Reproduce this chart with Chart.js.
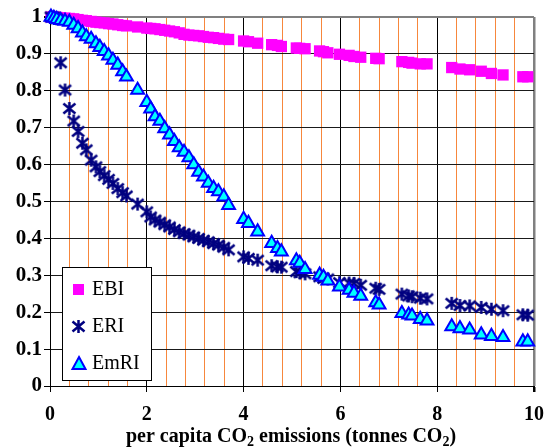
<!DOCTYPE html>
<html>
<head>
<meta charset="utf-8">
<script src="https://cdn.jsdelivr.net/npm/chart.js@4"></script>
<style>
  html, body { margin: 0; padding: 0; background: #fff; }
</style>
</head>
<body>
<canvas id="indexChart" width="555" height="448"></canvas>
<script>
// per capita CO2 emissions (tonnes CO2), one entry per country
const xValues = [0.02, 0.08, 0.14, 0.22, 0.31, 0.40, 0.49, 0.58, 0.67, 0.75, 0.85, 0.95, 1.03, 1.12, 1.21, 1.30, 1.40, 1.50, 1.58, 1.81,
  2.00, 2.08, 2.17, 2.27, 2.37, 2.47, 2.57, 2.67, 2.77, 2.87, 2.97, 3.07, 3.17, 3.27, 3.38, 3.48, 3.59, 3.69, 4.00, 4.10,
  4.29, 4.58, 4.70, 4.78, 5.09, 5.16, 5.27, 5.57, 5.65, 5.74, 5.98, 6.18, 6.28, 6.42, 6.73, 6.80, 7.27, 7.41, 7.48, 7.65,
  7.79, 8.30, 8.47, 8.67, 8.91, 9.12, 9.36, 9.77, 9.87];

const ebi = [1.0, 1.0, 0.999, 0.998, 0.997, 0.996, 0.995, 0.993, 0.991, 0.99, 0.988, 0.986, 0.985, 0.984, 0.982, 0.981, 0.979, 0.977, 0.976, 0.973,
  0.97, 0.969, 0.968, 0.966, 0.964, 0.962, 0.96, 0.957, 0.953, 0.951, 0.95, 0.949, 0.947, 0.945, 0.944, 0.942, 0.94, 0.939, 0.935, 0.933,
  0.929, 0.925, 0.923, 0.92, 0.916, 0.915, 0.914, 0.908, 0.906, 0.903, 0.899, 0.896, 0.893, 0.891, 0.888, 0.887, 0.879, 0.877, 0.875, 0.873,
  0.873, 0.863, 0.859, 0.857, 0.853, 0.847, 0.843, 0.838, 0.838];

const eri = [1.0, 1.0, 0.995, 0.876, 0.802, 0.752, 0.718, 0.69, 0.658, 0.64, 0.612, 0.594, 0.581, 0.57, 0.56, 0.549, 0.535, 0.524, 0.515, 0.493,
  0.472, 0.458, 0.45, 0.444, 0.437, 0.431, 0.424, 0.418, 0.413, 0.409, 0.404, 0.40, 0.395, 0.391, 0.386, 0.382, 0.376, 0.369, 0.35, 0.346,
  0.341, 0.326, 0.323, 0.322, 0.31, 0.307, 0.304, 0.296, 0.292, 0.29, 0.28, 0.279, 0.278, 0.273, 0.265, 0.262, 0.249, 0.244, 0.242, 0.238,
  0.236, 0.224, 0.218, 0.217, 0.213, 0.208, 0.204, 0.193, 0.192];

const emri = [1.0, 0.997, 0.994, 0.991, 0.989, 0.986, 0.978, 0.969, 0.957, 0.947, 0.94, 0.928, 0.918, 0.907, 0.895, 0.883, 0.87, 0.852, 0.838, 0.802,
  0.769, 0.751, 0.73, 0.718, 0.698, 0.681, 0.663, 0.646, 0.634, 0.619, 0.60, 0.58, 0.567, 0.55, 0.536, 0.527, 0.513, 0.49, 0.452, 0.441,
  0.418, 0.387, 0.373, 0.364, 0.34, 0.333, 0.316, 0.301, 0.295, 0.285, 0.269, 0.26, 0.252, 0.244, 0.226, 0.22, 0.197, 0.193, 0.19, 0.181,
  0.177, 0.161, 0.156, 0.152, 0.139, 0.135, 0.132, 0.12, 0.12];

const seriesNames = ['EBI', 'ERI', 'EmRI'];
const xTickLabels = ['0', '2', '4', '6', '8', '10'];
const yTickLabels = ['0', '0.1', '0.2', '0.3', '0.4', '0.5', '0.6', '0.7', '0.8', '0.9', '1'];

const SERIF = "'Liberation Serif', 'Times New Roman', serif";
const near = (a, b) => Math.abs(a - b) < 1e-6;
const isMajorX = v => near(v / 2, Math.round(v / 2));

// star marker: an X with a vertical bar, like the spreadsheet "*" marker
function makeStar(size, color) {
  const c = document.createElement('canvas');
  c.width = c.height = size;
  const g = c.getContext('2d');
  g.strokeStyle = color;
  g.lineWidth = 2.5;
  const a = 1.5, b = size - 1.5;
  g.beginPath();
  g.moveTo(a, a + 1); g.lineTo(b, b - 1);
  g.moveTo(b, a + 1); g.lineTo(a, b - 1);
  g.moveTo(size / 2, a - 0.5); g.lineTo(size / 2, b + 0.5);
  g.stroke();
  return c;
}
const star = makeStar(15, '#000080');

const toPoints = ys => xValues.map((x, i) => ({ x: x, y: ys[i] }));

// legend box inside the plot, lower left
const boxLegend = {
  id: 'boxLegend',
  afterDraw(chart) {
    const ctx = chart.ctx;
    ctx.save();
    ctx.fillStyle = '#fff';
    ctx.strokeStyle = '#000';
    ctx.lineWidth = 1;
    ctx.fillRect(62.5, 267.5, 89, 113);
    ctx.strokeRect(62.5, 267.5, 89, 113);

    // EBI square
    ctx.fillStyle = '#FF00FF';
    ctx.fillRect(73, 284, 11, 11);
    // ERI star
    ctx.drawImage(star, 78.5 - 7.5, 326.5 - 7.5);
    // EmRI triangle
    ctx.beginPath();
    ctx.moveTo(79, 357);
    ctx.lineTo(85.5, 369);
    ctx.lineTo(72.5, 369);
    ctx.closePath();
    ctx.fillStyle = '#00FFFF';
    ctx.fill();
    ctx.strokeStyle = '#0000FF';
    ctx.lineWidth = 2;
    ctx.stroke();

    ctx.fillStyle = '#000';
    ctx.font = '20px ' + SERIF;
    ctx.textBaseline = 'alphabetic';
    ctx.textAlign = 'left';
    ctx.fillText(seriesNames[0], 92, 295);
    ctx.fillText(seriesNames[1], 92, 332);
    ctx.fillText(seriesNames[2], 92, 369);
    ctx.restore();
  }
};

// x axis title with real subscripts
const axisTitle = {
  id: 'axisTitle',
  afterDraw(chart) {
    const ctx = chart.ctx;
    const parts = [['per capita CO', 0], ['2', 1], [' emissions (tonnes CO', 0], ['2', 1], [')', 0]];
    const big = 'bold 20px ' + SERIF, small = 'bold 14px ' + SERIF;
    ctx.save();
    let w = 0;
    parts.forEach(p => { ctx.font = p[1] ? small : big; w += ctx.measureText(p[0]).width; });
    let x = 291 - w / 2;
    const base = 442;
    ctx.fillStyle = '#000';
    ctx.textAlign = 'left';
    ctx.textBaseline = 'alphabetic';
    parts.forEach(p => {
      ctx.font = p[1] ? small : big;
      ctx.fillText(p[0], x, p[1] ? base + 4 : base);
      x += ctx.measureText(p[0]).width;
    });
    ctx.restore();
  }
};

new Chart(document.getElementById('indexChart'), {
  type: 'scatter',
  data: {
    datasets: [{
      label: seriesNames[0],
      data: toPoints(ebi),
      pointStyle: 'rect',
      pointRadius: 8,
      pointHoverRadius: 8,
      backgroundColor: '#FF00FF',
      borderColor: '#FF00FF',
      borderWidth: 0,
      order: 3,
      clip: false
    }, {
      label: seriesNames[1],
      data: toPoints(eri),
      pointStyle: star,
      order: 2,
      clip: false
    }, {
      label: seriesNames[2],
      data: toPoints(emri),
      pointStyle: 'triangle',
      pointRadius: 7.4,
      pointHoverRadius: 7.4,
      backgroundColor: '#00FFFF',
      borderColor: '#0000FF',
      borderWidth: 2,
      order: 1,
      clip: false
    }]
  },
  options: {
    responsive: false,
    animation: false,
    layout: { padding: { top: 17, right: 17, left: 0, bottom: 0 } },
    plugins: {
      legend: { display: false },
      tooltip: { enabled: false }
    },
    scales: {
      x: {
        type: 'linear',
        min: 0,
        max: 10,
        afterBuildTicks: s => {
          const t = [];
          for (let i = 0; i <= 25; i++) t.push({ value: Math.round(i * 4) / 10 });
          s.ticks = t;
        },
        afterFit: s => { s.height = 62; },
        ticks: {
          autoSkip: false,
          maxRotation: 0,
          padding: 11,
          color: '#000',
          font: { family: SERIF, size: 20, weight: 'bold' },
          callback: v => isMajorX(v) ? xTickLabels[Math.round(v / 2)] : ''
        },
        grid: {
          color: c => near(c.tick.value, 10) ? '#808080' : (isMajorX(c.tick.value) ? '#000' : '#F7873C'),
          lineWidth: c => near(c.tick.value, 10) ? 2.5 : 1,
          tickColor: c => isMajorX(c.tick.value) ? '#000' : 'rgba(0,0,0,0)',
          tickLength: 6
        },
        border: { color: '#000', width: 1 }
      },
      y: {
        min: 0,
        max: 1,
        afterBuildTicks: s => {
          s.ticks = yTickLabels.map((l, i) => ({ value: i / 10 }));
        },
        afterFit: s => { s.width = 50; },
        ticks: {
          padding: 2,
          color: '#000',
          font: { family: SERIF, size: 21, weight: 'bold' },
          callback: (v, i) => yTickLabels[i]
        },
        grid: {
          color: c => near(c.tick.value, 1) ? '#808080' : '#1a1a1a',
          lineWidth: c => near(c.tick.value, 1) ? 2 : 1,
          tickColor: '#000',
          tickLength: 6
        },
        border: { color: '#000', width: 1 }
      }
    }
  },
  plugins: [boxLegend, axisTitle]
});
</script>
</body>
</html>
